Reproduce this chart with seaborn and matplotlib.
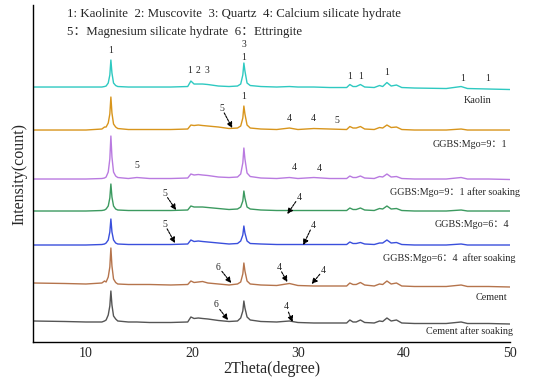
import matplotlib
matplotlib.use("Agg")
import matplotlib.pyplot as plt
import seaborn as sns
import pandas as pd
import numpy as np

sns.set_style("white")
plt.rcParams["font.family"] = ["Liberation Serif", "Noto Sans CJK SC", "DejaVu Sans"]

# 2theta grid (degrees) shared by all patterns
TWO_THETA = [5, 8, 10, 11.5, 11.75, 11.9, 12.1, 12.25, 12.35, 12.45,
             12.6, 12.8, 13.0, 14, 14.8, 16, 18, 19.6, 19.9, 20.2,
             20.6, 21.0, 21.5, 22.5, 23.5, 24.3, 24.6, 24.8, 24.9, 25.0,
             25.2, 25.5, 26.5, 28, 29.2, 30, 31.5, 33, 34.6, 34.9,
             35.2, 35.5, 35.9, 36.3, 37.2, 37.7, 38.0, 38.4, 38.8, 39.3,
             39.8, 41, 44, 45.4, 46, 48, 50]

# relative intensities (arbitrary counts)
KAOLIN = [1, 1, 1, 1, 1.5, 2, 5, 13, 28, 15,
          5, 2.5, 1.5, 1, 1, 1, 1, 1.5, 7, 4,
          4, 4, 3.5, 2, 1.5, 2, 4, 13, 25, 17,
          5, 2.5, 1.5, 1, 1.5, 1, 1, 0.5, 0.5, 3.5,
          1.5, 1.5, 3.5, 1, 0.5, 2.5, 1.5, 5.5, 2, 3,
          0.5, 0, -0.5, 1.5, -0.5, -1, -1.5]
MIX_91 = [0, 0, 0, 1, 3, 3, 7, 16, 33, 17,
          6, 3, 1.5, 0.5, 0.5, 0.5, 0.5, 1, 5, 4.5,
          5, 4.5, 4, 3, 1.5, 2, 4, 12, 24, 16,
          5, 2, 1, 0.5, 2, 0.5, 1.5, 1, 0.5, 3.5,
          2, 2, 3.5, 1, 0.5, 2.5, 2, 5, 2.5, 3,
          0.5, 0, 0, 1, 0, 0, 0]
MIX_91_SOAK = [0, 0, 0, 0.5, 1, 2, 7, 20, 43, 22,
               7, 3, 1.5, 0.5, 1.5, 0.5, 0.5, 1, 5, 4,
               4.5, 4, 3.5, 2, 1.5, 2, 5, 16, 31, 20,
               6, 2.5, 1, 0.5, 1.5, 0.5, 1.5, 0.5, 0.5, 3,
               1.5, 1.5, 3, 1, 0.5, 2.5, 2, 5, 2, 2.5,
               0.5, 0, 0, 1.5, 0, 0, -0.5]
MIX_64 = [0, 0, 0, 0.5, 1, 2, 5, 13, 27, 14,
          5, 2, 1, 0.5, 0.5, 0.5, 0.5, 1, 5, 4,
          4, 4, 3.5, 2.5, 1.5, 2, 4, 10, 20, 13,
          4, 2, 1, 0.5, 0.5, 0.5, 0.5, 0.5, 0.5, 3,
          1.5, 1.5, 3, 1, 0.5, 2.5, 2, 5, 2, 2.5,
          0.5, 0, 0, 1, 0, 0, 0]
MIX_64_SOAK = [0, 0, 0, 0.5, 1, 2, 5, 13, 26, 13,
               5, 2, 1, 0.5, 0.5, 0.5, 0.5, 1, 5, 3.5,
               4, 3.5, 3, 2, 1, 1.5, 4, 10, 19, 12,
               4, 1.5, 1, 0.5, 0.5, 0.5, 0.5, 0.5, 0.5, 3,
               1.5, 1.5, 2.5, 1, 0.5, 2, 2, 5, 2, 2.5,
               0.5, 0, 0, 1, 0, 0, 0]
CEMENT = [2, 1.5, 1, 2, 4, 3, 8, 18, 37, 19,
          6, 2.5, 1, 0.5, 0.5, 0.5, 0, 0.5, 4, 2.5,
          3, 3.5, 2, 1, 0, 1, 3, 11, 22, 14,
          4, 1, 0, -0.5, 1.5, -0.5, -1, -1, -1, 2,
          0.5, 0.5, 2.5, 0, -1, 1, 0.5, 4, 1, 2,
          -1, -1.5, -1.5, 0, -1.5, -1.5, -2]
CEMENT_SOAK = [0, -0.5, -1, -1, 0, 1, 6, 15, 30, 16,
               5, 2, 0, -1, -1, -1.5, -1.5, -1, 4, 2.5,
               3, 2.5, 2, 0.5, -0.5, 0, 3, 10, 20, 13,
               4, 1, -0.5, -1, 0, -1.5, -2, -2, -2, 1,
               -1, -1, 1, -1.5, -2, 0, -0.5, 3, 0, 1,
               -2, -2.5, -2.5, -1, -2.5, -2.5, -3]

SAMPLES = ["Kaolin", "GGBS:Mgo=9：1", "GGBS:Mgo=9：1 after soaking", "GGBS:Mgo=6：4",
           "GGBS:Mgo=6：4  after soaking", "Cement", "Cement after soaking"]
PATTERNS = [KAOLIN, MIX_91, MIX_91_SOAK, MIX_64, MIX_64_SOAK, CEMENT, CEMENT_SOAK]
OFFSETS = [254, 212, 163, 131, 97, 57, 21]
COLORS = ["#2ec9c1", "#d8951c", "#b97ae0", "#3c9a60", "#3a4fdc", "#b5744c", "#555555"]

# (text, x, y) peak markers
PEAK_TAGS = [("1", 12.35, 292), ("1", 19.8, 272), ("2", 20.6, 272), ("3", 21.4, 272),
             ("3", 24.9, 298), ("1", 24.9, 285), ("1", 34.9, 266), ("1", 35.9, 266),
             ("1", 38.4, 270), ("1", 45.5, 264), ("1", 47.9, 264),
             ("1", 24.9, 246), ("4", 29.2, 224), ("4", 31.4, 224), ("5", 33.7, 222),
             ("5", 14.8, 177), ("4", 29.7, 175), ("4", 32.0, 174)]
# (text, text x, text y, arrow head x, arrow head y)
ARROW_TAGS = [("5", 22.8, 234, 23.8, 214),
              ("5", 17.4, 149, 18.5, 132), ("4", 30.1, 145, 29.0, 128),
              ("5", 17.4, 118, 18.4, 99), ("4", 31.4, 117, 30.5, 97),
              ("6", 22.5, 75, 23.7, 59), ("4", 28.2, 75, 29.0, 60), ("4", 32.4, 72, 31.3, 58),
              ("6", 22.3, 37, 23.4, 22), ("4", 28.9, 35, 29.5, 20)]
# (text, right x, y)
SAMPLE_LABELS = [("Kaolin", 48.3, 242), ("GGBS:Mgo=9：1", 49.8, 198),
                 ("GGBS:Mgo=9：1 after soaking", 51.0, 150), ("GGBS:Mgo=6：4", 49.9, 118),
                 ("GGBS:Mgo=6：4  after soaking", 50.5, 84), ("Cement", 49.8, 44),
                 ("Cement after soaking", 50.3, 11)]

frames = []
for name, pat, off in zip(SAMPLES, PATTERNS, OFFSETS):
    frames.append(pd.DataFrame({"2theta": TWO_THETA,
                                "intensity": np.array(pat, dtype=float) + off,
                                "sample": name}))
df = pd.concat(frames, ignore_index=True)

fig = plt.figure(figsize=(5.5, 3.87), dpi=100)
ax = fig.add_axes([0.06, 0.1163, 0.867, 0.8707])
sns.lineplot(data=df, x="2theta", y="intensity", hue="sample", palette=COLORS,
             estimator=None, sort=False, linewidth=1.0, legend=False, ax=ax)

ax.set_xlim(5, 50)
ax.set_ylim(0, 337)
ax.set_xticks([10, 20, 30, 40, 50])
ax.set_xticks([15, 25, 35, 45], minor=True)
ax.set_yticks([])
ax.tick_params(axis="x", which="major", direction="in", length=5, width=0.8, labelsize=10)
ax.tick_params(axis="x", which="minor", direction="in", length=3, width=0.8)
for s in ["top", "right"]:
    ax.spines[s].set_visible(False)
for s in ["left", "bottom"]:
    ax.spines[s].set_color("black")
    ax.spines[s].set_linewidth(1.0)
ax.set_xlabel("2Theta(degree)", fontsize=11.5, labelpad=1)
ax.set_ylabel("Intensity(count)", fontsize=11.5, labelpad=4)

ax.text(8.2, 328, "1: Kaolinite  2: Muscovite  3: Quartz  4: Calcium silicate hydrate",
        fontsize=9.3, va="center", ha="left")
ax.text(8.2, 310, "5：Magnesium silicate hydrate  6：Ettringite",
        fontsize=9.3, va="center", ha="left")

for t, x, y in PEAK_TAGS:
    ax.text(x, y, t, fontsize=7, ha="center", va="center")
for t, x, y, hx, hy in ARROW_TAGS:
    ax.annotate(t, xy=(hx, hy), xytext=(x, y), fontsize=7, ha="center", va="center",
                arrowprops=dict(arrowstyle="-|>", color="black", lw=0.8,
                                linestyle=(0, (2, 1)), mutation_scale=8,
                                patchA=None, shrinkA=4, shrinkB=0))
for t, x, y in SAMPLE_LABELS:
    ax.text(x, y, t, fontsize=7.3, ha="right", va="center", clip_on=False)

fig.savefig("out.png", dpi=100)
